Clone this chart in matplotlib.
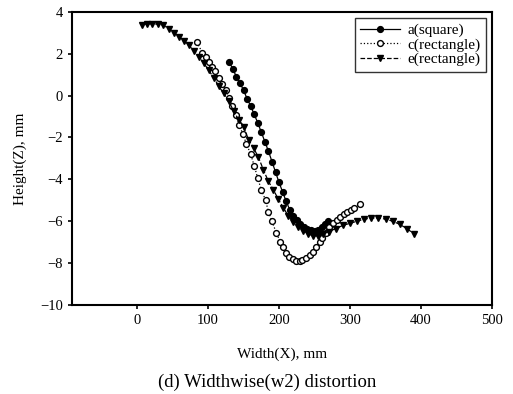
import numpy as np
import matplotlib.pyplot as plt

# a(square) - filled circles, solid line
a_x = [130, 135, 140, 145, 150, 155, 160, 165, 170, 175, 180, 185, 190, 195,
       200, 205, 210, 215, 220, 225, 230, 235, 240, 245, 250, 255, 260, 265, 269]
a_y = [1.6, 1.25, 0.9, 0.6, 0.25, -0.15, -0.5, -0.9, -1.3, -1.75, -2.2, -2.65,
       -3.15, -3.65, -4.15, -4.6, -5.05, -5.45, -5.75, -5.95, -6.15, -6.3,
       -6.35, -6.4, -6.45, -6.4, -6.3, -6.15, -6.0]

# c(rectangle) - open circles, dotted line
c_x = [84, 92, 97, 101, 105, 110, 115, 120, 125, 130, 134, 139, 144, 149, 154,
       160, 165, 170, 175, 181, 185, 190, 196, 202, 206, 210, 214, 219, 224,
       229, 233, 238, 243, 248, 252, 257, 261, 266, 271, 276, 281, 286, 291,
       296, 301, 306, 314]
c_y = [2.55, 2.05, 1.85, 1.6, 1.35, 1.15, 0.85, 0.55, 0.25, -0.1, -0.5, -0.95,
       -1.4, -1.85, -2.3, -2.8, -3.35, -3.95, -4.5, -5.0, -5.55, -6.0, -6.55,
       -7.0, -7.25, -7.5, -7.7, -7.8, -7.9, -7.9, -7.85, -7.75, -7.6, -7.45,
       -7.25, -7.0, -6.8, -6.55, -6.3, -6.1, -5.95, -5.8, -5.65, -5.55, -5.45,
       -5.35, -5.2]

# e(rectangle) - filled down triangles, dashed line
e_x = [7, 14, 21, 29, 37, 45, 52, 59, 66, 73, 80, 87, 94, 101, 108, 115, 122,
       129, 136, 143, 150, 157, 164, 171, 178, 185, 192, 199, 206, 213, 220,
       227, 234, 241, 248, 255, 262, 270, 280, 290, 300, 310, 320, 330, 340,
       350, 360, 370, 380, 390]
e_y = [3.38, 3.43, 3.43, 3.41, 3.35, 3.18, 2.99, 2.82, 2.6, 2.4, 2.15, 1.85,
       1.55, 1.2, 0.85, 0.45, 0.1, -0.25, -0.75, -1.15, -1.5, -2.1, -2.5,
       -2.95, -3.55, -4.1, -4.5, -4.95, -5.35, -5.75, -6.05, -6.3, -6.45, -6.6,
       -6.7, -6.7, -6.6, -6.5, -6.35, -6.2, -6.1, -6.0, -5.9, -5.85, -5.85,
       -5.9, -6.0, -6.15, -6.35, -6.6]

plt.rcParams.update({
    "font.family": ["Liberation Serif", "DejaVu Serif"],
    "font.size": 10.5,
    "axes.linewidth": 1.5,
})

fig = plt.figure(figsize=(5.13, 3.94), dpi=100)
ax = fig.add_axes([0.140, 0.226, 0.819, 0.744])

ax.plot(a_x, a_y, "-", color="black", lw=0.9, marker="o", ms=4.2,
        mfc="black", mec="black", label="a(square)")
ax.plot(c_x, c_y, ":", color="black", lw=0.9, marker="o", ms=4.2,
        mfc="white", mec="black", mew=1.0, label="c(rectangle)")
ax.plot(e_x, e_y, "--", color="black", lw=0.9, marker="v", ms=4.8,
        mfc="black", mec="black", label="e(rectangle)")

ax.set_xlim(-92, 500)
ax.set_ylim(-10, 4)
ax.set_xticks([0, 100, 200, 300, 400, 500])
ax.set_yticks([-10, -8, -6, -4, -2, 0, 2, 4])
ax.set_yticklabels(["\u221210", "\u22128", "\u22126", "\u22124", "\u22122", "0", "2", "4"])
ax.tick_params(direction="out", length=3, width=1.2, labelsize=10.5)

ax.set_xlabel("Width(X), mm", fontsize=11, labelpad=15)
ax.set_ylabel("Height(Z), mm", fontsize=11, labelpad=9)

leg = ax.legend(loc="upper right", fontsize=11, handlelength=2.6,
                borderaxespad=0.4, frameon=True, fancybox=False,
                labelspacing=0.05, handletextpad=0.5, borderpad=0.35)
leg.get_frame().set_edgecolor("black")
leg.get_frame().set_linewidth(1.0)

fig.text(0.52, 0.03, "(d) Widthwise(w2) distortion", ha="center",
         va="center", fontsize=13.5)

fig.savefig("out.png", dpi=100)
